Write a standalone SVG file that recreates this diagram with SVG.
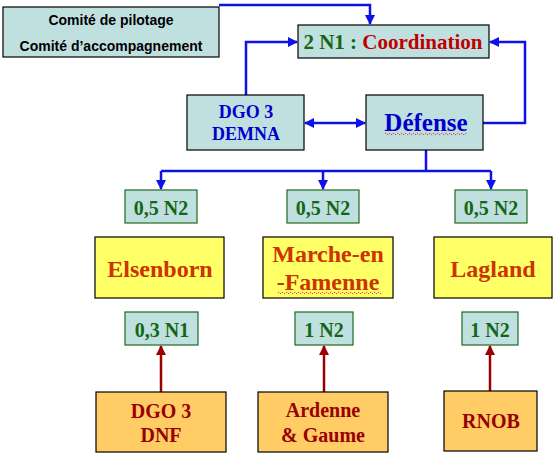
<svg xmlns="http://www.w3.org/2000/svg" width="559" height="469" viewBox="0 0 559 469">
<style>
.blue{fill:#C0E0E0;stroke:#000;stroke-width:1.2}
.yel{fill:#FFFF66;stroke:#000;stroke-width:1.2}
.ora{fill:#FFCC66;stroke:#000;stroke-width:1.2}
.sm{fill:#C0E0E0;stroke:#1E6B1E;stroke-width:1.2}
.t{font-family:"Liberation Serif","Times New Roman",serif;font-weight:bold;text-anchor:middle}
.g{fill:#146614;font-size:20px}
.o{fill:#CC3300;font-size:24px}
.r{fill:#990000;font-size:20px}
.b{fill:#0000CC}
.c{stroke:#1010E8;stroke-width:2.5;fill:none}
.d{stroke:#990000;stroke-width:2.5;fill:none}
.w{stroke:#E02020;stroke-width:1;fill:none;stroke-dasharray:1.5 1}
.k{font-family:"Liberation Sans",Arial,sans-serif;font-weight:bold;font-size:14px;text-anchor:middle;fill:#000}
</style>
<defs>
<marker id="ab" viewBox="0 0 10 10" refX="9" refY="5" markerWidth="4" markerHeight="4" orient="auto-start-reverse" markerUnits="strokeWidth"><path d="M0,0 L10,5 L0,10 z" fill="#1010E8"/></marker>
<marker id="ar" viewBox="0 0 10 10" refX="9" refY="5" markerWidth="4" markerHeight="4" orient="auto" markerUnits="strokeWidth"><path d="M0,0 L10,5 L0,10 z" fill="#990000"/></marker>
</defs>
<g id="connectors">
<path class="c" d="M219,5 H370 V24" marker-end="url(#ab)"/>
<path class="c" d="M246,95 V42 H297" marker-end="url(#ab)"/>
<path class="c" d="M483,123 H525 V42 H490" marker-end="url(#ab)"/>
<path class="c" d="M305,123 H365" marker-start="url(#ab)" marker-end="url(#ab)"/>
<path class="c" d="M426,150 V171"/>
<path class="c" d="M161,171 H491"/>
<path class="c" d="M161,171 V189" marker-end="url(#ab)"/>
<path class="c" d="M323,171 V189" marker-end="url(#ab)"/>
<path class="c" d="M491,171 V189" marker-end="url(#ab)"/>
<path class="d" d="M161,392 V346" marker-end="url(#ar)"/>
<path class="d" d="M324,392 V346" marker-end="url(#ar)"/>
<path class="d" d="M490,391 V346" marker-end="url(#ar)"/>
</g>
<g id="comite">
<rect class="blue" x="3" y="7" width="216" height="50"/>
<text class="k" x="111" y="25">Comité de pilotage</text>
<text class="k" x="111" y="51">Comité d’accompagnement</text>
</g>
<g id="coordination">
<rect class="blue" x="298" y="25" width="191" height="33"/>
<text class="t" x="393" y="49" font-size="21"><tspan fill="#146614">2 N1 : </tspan><tspan fill="#C00000">Coordination</tspan></text>
</g>
<g id="dgo3demna">
<rect class="blue" x="187" y="95" width="117" height="55"/>
<text class="t b" x="246" y="118" font-size="18">DGO 3</text>
<text class="t b" x="246" y="140" font-size="18">DEMNA</text>
</g>
<g id="defense">
<rect class="blue" x="366" y="95" width="117" height="55"/>
<text class="t b" x="426" y="131" font-size="25">Défense</text>
<path class="w" d="M385,134 q1,-1.5 2,0 t2,0 t2,0 t2,0 t2,0 t2,0 t2,0 t2,0 t2,0 t2,0 t2,0 t2,0 t2,0 t2,0 t2,0 t2,0 t2,0 t2,0 t2,0 t2,0 t2,0 t2,0 t2,0 t2,0 t2,0 t2,0 t2,0 t2,0 t2,0 t2,0 t2,0 t2,0 t2,0 t2,0 t2,0 t2,0 t2,0 t2,0 t2,0 t2,0 t2,0"/>
</g>
<g id="n2a">
<rect class="sm" x="125" y="190" width="72" height="33"/>
<text class="t g" x="161" y="215">0,5 N2</text>
</g>
<g id="n2b">
<rect class="sm" x="287" y="190" width="72" height="33"/>
<text class="t g" x="323" y="215">0,5 N2</text>
</g>
<g id="n2c">
<rect class="sm" x="455" y="190" width="72" height="33"/>
<text class="t g" x="491" y="215">0,5 N2</text>
</g>
<g id="elsenborn">
<rect class="yel" x="95" y="237" width="129" height="61"/>
<text class="t o" x="160" y="277">Elsenborn</text>
</g>
<g id="marche">
<rect class="yel" x="263" y="237" width="130" height="61"/>
<text class="t o" x="328" y="262">Marche-en</text>
<text class="t o" x="328" y="290">-Famenne</text>
<path class="w" d="M278,293 q1,-1.5 2,0 t2,0 t2,0 t2,0 t2,0 t2,0 t2,0 t2,0 t2,0 t2,0 t2,0 t2,0 t2,0 t2,0 t2,0 t2,0 t2,0 t2,0 t2,0 t2,0 t2,0 t2,0 t2,0 t2,0 t2,0 t2,0 t2,0 t2,0 t2,0 t2,0 t2,0 t2,0 t2,0 t2,0 t2,0 t2,0 t2,0 t2,0 t2,0 t2,0 t2,0 t2,0 t2,0 t2,0 t2,0 t2,0 t2,0 t2,0 t2,0 t2,0 t2,0 t2,0"/>
</g>
<g id="lagland">
<rect class="yel" x="434" y="237" width="118" height="61"/>
<text class="t o" x="493" y="277">Lagland</text>
</g>
<g id="n1a">
<rect class="sm" x="125" y="312" width="73" height="33"/>
<text class="t g" x="162" y="337">0,3 N1</text>
</g>
<g id="n2d">
<rect class="sm" x="295" y="312" width="58" height="33"/>
<text class="t g" x="324" y="337">1 N2</text>
</g>
<g id="n2e">
<rect class="sm" x="462" y="312" width="56" height="33"/>
<text class="t g" x="490" y="337">1 N2</text>
</g>
<g id="dgo3dnf">
<rect class="ora" x="96" y="392" width="130" height="60"/>
<text class="t r" x="161" y="418">DGO 3</text>
<text class="t r" x="161" y="442">DNF</text>
</g>
<g id="ardenne">
<rect class="ora" x="258" y="392" width="130" height="60"/>
<text class="t r" x="323" y="417">Ardenne</text>
<text class="t r" x="323" y="442">&amp; Gaume</text>
</g>
<g id="rnob">
<rect class="ora" x="444" y="391" width="93" height="60"/>
<text class="t r" x="491" y="428">RNOB</text>
</g>
</svg>
